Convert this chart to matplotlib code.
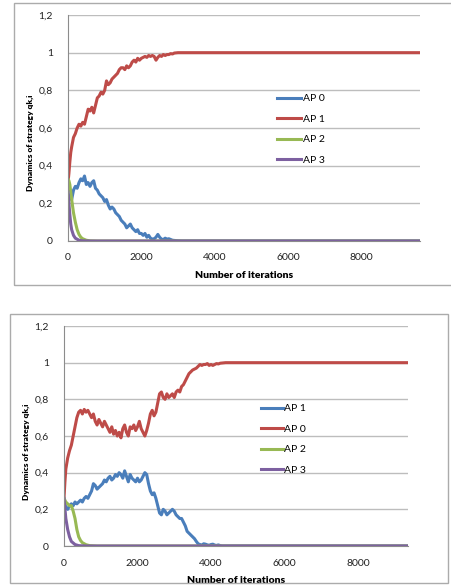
import matplotlib
matplotlib.use("Agg")
import matplotlib.pyplot as plt
from matplotlib.patches import Rectangle
from matplotlib.ticker import FixedLocator, FuncFormatter

plt.rcParams['font.family'] = ['Lato', 'DejaVu Sans']

# ---------------- data: top chart ----------------
top_ap0_x = [0, 50, 100, 150, 200, 250, 300, 350, 400, 450, 500, 550, 600, 650, 700, 750, 800, 850, 900, 950,
             1000, 1050, 1100, 1150, 1200, 1250, 1300, 1350, 1400, 1450, 1500, 1550, 1600, 1650, 1700, 1750,
             1800, 1850, 1900, 1950, 2000, 2050, 2100, 2150, 2200, 2250, 2300, 2350, 2400, 2450, 2500, 2550,
             2600, 2650, 2700, 2750, 2800, 2850, 2900, 2950, 3000, 3100, 9600]
top_ap0_y = [0.25, 0.23, 0.22, 0.27, 0.29, 0.28, 0.31, 0.33, 0.32, 0.345, 0.30, 0.31, 0.29, 0.31, 0.32, 0.28,
             0.27, 0.25, 0.24, 0.23, 0.21, 0.22, 0.19, 0.17, 0.18, 0.17, 0.15, 0.14, 0.13, 0.11, 0.10, 0.09,
             0.07, 0.08, 0.09, 0.07, 0.06, 0.05, 0.06, 0.04, 0.04, 0.03, 0.04, 0.02, 0.03, 0.015, 0.01, 0.012,
             0.02, 0.035, 0.02, 0.01, 0.008, 0.015, 0.01, 0.012, 0.008, 0.004, 0.003, 0.002, 0.001, 0.0, 0.0]

top_ap1_x = [0, 25, 50, 75, 100, 150, 200, 250, 300, 350, 400, 450, 500, 550, 600, 650, 700, 750, 800, 850,
             900, 950, 1000, 1050, 1100, 1150, 1200, 1250, 1300, 1350, 1400, 1450, 1500, 1550, 1600, 1650,
             1700, 1750, 1800, 1850, 1900, 1950, 2000, 2050, 2100, 2150, 2200, 2250, 2300, 2350, 2400, 2450,
             2500, 2550, 2600, 2650, 2700, 2750, 2800, 2850, 2900, 3000, 9600]
top_ap1_y = [0.31, 0.36, 0.42, 0.47, 0.50, 0.55, 0.57, 0.60, 0.62, 0.61, 0.63, 0.62, 0.66, 0.70, 0.69, 0.71,
             0.68, 0.72, 0.76, 0.77, 0.79, 0.78, 0.80, 0.85, 0.83, 0.84, 0.86, 0.87, 0.88, 0.89, 0.91, 0.92,
             0.92, 0.91, 0.93, 0.92, 0.93, 0.95, 0.96, 0.95, 0.97, 0.96, 0.97, 0.975, 0.98, 0.975, 0.985, 0.98,
             0.985, 0.98, 0.96, 0.975, 0.985, 0.98, 0.99, 0.985, 0.99, 0.99, 0.995, 0.993, 0.998, 1.0, 1.0]

top_ap2_x = [0, 25, 50, 75, 100, 150, 200, 250, 300, 350, 400, 500, 600, 800, 9600]
top_ap2_y = [0.33, 0.32, 0.30, 0.26, 0.22, 0.15, 0.10, 0.06, 0.035, 0.02, 0.012, 0.004, 0.001, 0.0, 0.0]

top_ap3_x = [0, 25, 50, 75, 100, 150, 200, 300, 400, 600, 9600]
top_ap3_y = [0.26, 0.20, 0.14, 0.09, 0.06, 0.03, 0.015, 0.004, 0.001, 0.0, 0.0]

# ---------------- data: bottom chart ----------------
bot_ap1_x = [0, 50, 100, 150, 200, 250, 300, 350, 400, 450, 500, 550, 600, 650, 700, 750, 800, 850, 900, 950,
             1000, 1050, 1100, 1150, 1200, 1250, 1300, 1350, 1400, 1450, 1500, 1550, 1600, 1650, 1700, 1750,
             1800, 1850, 1900, 1950, 2000, 2050, 2100, 2150, 2200, 2250, 2300, 2350, 2400, 2450, 2500, 2550,
             2600, 2650, 2700, 2750, 2800, 2850, 2900, 2950, 3000, 3050, 3100, 3150, 3200, 3250, 3300, 3350,
             3400, 3450, 3500, 3550, 3600, 3650, 3700, 3750, 3800, 3850, 3900, 3950, 4000, 4050, 4100, 4150,
             4200, 4250, 4300, 9360]
bot_ap1_y = [0.25, 0.21, 0.20, 0.22, 0.23, 0.22, 0.24, 0.23, 0.24, 0.25, 0.24, 0.26, 0.27, 0.26, 0.28, 0.30,
             0.34, 0.33, 0.31, 0.32, 0.33, 0.34, 0.36, 0.35, 0.37, 0.38, 0.36, 0.37, 0.39, 0.38, 0.40, 0.39,
             0.37, 0.41, 0.38, 0.35, 0.39, 0.37, 0.36, 0.35, 0.37, 0.35, 0.36, 0.38, 0.40, 0.39, 0.34, 0.30,
             0.28, 0.29, 0.26, 0.22, 0.18, 0.17, 0.20, 0.19, 0.17, 0.18, 0.19, 0.20, 0.19, 0.17, 0.16, 0.15,
             0.15, 0.13, 0.11, 0.08, 0.07, 0.06, 0.05, 0.04, 0.025, 0.012, 0.008, 0.005, 0.012, 0.01, 0.006,
             0.004, 0.008, 0.01, 0.005, 0.003, 0.006, 0.002, 0.0, 0.0]

bot_ap0_x = [0, 25, 50, 100, 150, 200, 250, 300, 350, 400, 450, 500, 550, 600, 650, 700, 750, 800, 850, 900,
             950, 1000, 1050, 1100, 1150, 1200, 1250, 1300, 1350, 1400, 1450, 1500, 1550, 1600, 1650, 1700,
             1750, 1800, 1850, 1900, 1950, 2000, 2050, 2100, 2150, 2200, 2250, 2300, 2350, 2400, 2450, 2500,
             2550, 2600, 2650, 2700, 2750, 2800, 2850, 2900, 2950, 3000, 3050, 3100, 3150, 3200, 3250, 3300,
             3350, 3400, 3450, 3500, 3550, 3600, 3650, 3700, 3750, 3800, 3850, 3900, 3950, 4000, 4050, 4100,
             4150, 4200, 4250, 4300, 4400, 9360]
bot_ap0_y = [0.26, 0.35, 0.42, 0.48, 0.52, 0.55, 0.60, 0.65, 0.70, 0.73, 0.74, 0.72, 0.745, 0.73, 0.74, 0.72,
             0.70, 0.72, 0.68, 0.66, 0.69, 0.67, 0.65, 0.68, 0.66, 0.64, 0.62, 0.65, 0.61, 0.63, 0.60, 0.62,
             0.59, 0.64, 0.66, 0.62, 0.60, 0.65, 0.64, 0.66, 0.63, 0.65, 0.68, 0.64, 0.62, 0.60, 0.63, 0.67,
             0.72, 0.74, 0.71, 0.73, 0.78, 0.83, 0.84, 0.81, 0.80, 0.83, 0.81, 0.82, 0.83, 0.81, 0.84, 0.85,
             0.84, 0.87, 0.88, 0.90, 0.92, 0.94, 0.95, 0.96, 0.965, 0.97, 0.98, 0.99, 0.985, 0.99, 0.99, 0.995,
             0.985, 0.99, 0.985, 0.99, 0.995, 0.993, 0.997, 0.998, 1.0, 1.0]

bot_ap2_x = [0, 50, 100, 150, 200, 250, 300, 350, 400, 450, 500, 600, 700, 900, 9360]
bot_ap2_y = [0.26, 0.24, 0.23, 0.22, 0.22, 0.19, 0.15, 0.09, 0.05, 0.03, 0.018, 0.007, 0.002, 0.0, 0.0]

bot_ap3_x = [0, 50, 100, 150, 200, 300, 400, 600, 9360]
bot_ap3_y = [0.26, 0.15, 0.09, 0.05, 0.025, 0.008, 0.002, 0.0, 0.0]

y_ticks = [0, 0.2, 0.4, 0.6, 0.8, 1.0, 1.2]
x_ticks = [0, 2000, 4000, 6000, 8000]

COL_BLUE = '#4A7EBB'
COL_RED = '#BE4B48'
COL_GREEN = '#98B954'
COL_PURPLE = '#7D60A0'

W, H = 452, 586
fig = plt.figure(figsize=(W / 100, H / 100), dpi=100)
fig.patch.set_facecolor('white')

# outer chart frames
fig.add_artist(Rectangle((14 / W, 1 - 285 / H), 1.02 - 14 / W, (285 - 3) / H, transform=fig.transFigure,
                         fill=False, edgecolor='#ABABAB', linewidth=1.0))
fig.add_artist(Rectangle((10 / W, 1 - 583 / H), (448 - 10) / W, (583 - 314) / H, transform=fig.transFigure,
                         fill=False, edgecolor='#ABABAB', linewidth=1.0))


def fmt_y(v, pos):
    s = ('%.1f' % v).rstrip('0').rstrip('.')
    return s.replace('.', ',')


def style_axes(ax, xmax, ylab_y):
    ax.set_xlim(0, xmax)
    ax.set_ylim(0, 1.2)
    ax.yaxis.set_major_locator(FixedLocator(y_ticks))
    ax.xaxis.set_major_locator(FixedLocator(x_ticks))
    ax.yaxis.set_major_formatter(FuncFormatter(fmt_y))
    ax.xaxis.set_major_formatter(FuncFormatter(lambda v, p: '%d' % v))
    for sp in ['top', 'right']:
        ax.spines[sp].set_visible(False)
    ax.spines['left'].set_color('#8C8C8C')
    ax.spines['bottom'].set_color('#8C8C8C')
    ax.grid(axis='y', color='#BDBDBD', linewidth=1.0)
    ax.set_axisbelow(True)
    ax.tick_params(axis='both', length=0, labelsize=7.5, colors='#222222')
    ax.tick_params(axis='y', pad=11)
    ax.tick_params(axis='x', pad=9)
    ax.set_xlabel('Number of iterations', fontsize=7.5, fontweight='heavy', labelpad=6)
    ax.set_ylabel('Dynamics of strategy qk,i', fontsize=6, fontweight='heavy')
    ax.yaxis.set_label_coords(-0.098, ylab_y)


lw = 2.2

# top chart
ax1 = fig.add_axes([68 / W, 1 - 241 / H, (420 - 68) / W, (241 - 15) / H])
ax1.plot(top_ap0_x, top_ap0_y, color=COL_BLUE, lw=lw, label='AP 0')
ax1.plot(top_ap1_x, top_ap1_y, color=COL_RED, lw=lw, label='AP 1')
ax1.plot(top_ap2_x, top_ap2_y, color=COL_GREEN, lw=lw, label='AP 2')
ax1.plot(top_ap3_x, top_ap3_y, color=COL_PURPLE, lw=lw, label='AP 3')
style_axes(ax1, 9600, 0.434)
ax1.legend(loc='upper left', bbox_to_anchor=(209 / 352, 1 - 79 / 226), frameon=False, fontsize=7.5,
           handlelength=2.3, handletextpad=0.15, labelspacing=1.08, borderaxespad=0, borderpad=0)

# bottom chart
ax2 = fig.add_axes([64 / W, 1 - 546 / H, (408 - 64) / W, (546 - 326) / H])
ax2.plot(bot_ap1_x, bot_ap1_y, color=COL_BLUE, lw=lw, label='AP 1')
ax2.plot(bot_ap0_x, bot_ap0_y, color=COL_RED, lw=lw, label='AP 0')
ax2.plot(bot_ap2_x, bot_ap2_y, color=COL_GREEN, lw=lw, label='AP 2')
ax2.plot(bot_ap3_x, bot_ap3_y, color=COL_PURPLE, lw=lw, label='AP 3')
style_axes(ax2, 9360, 0.427)
ax2.legend(loc='upper left', bbox_to_anchor=(197 / 344, 1 - 78 / 220), frameon=False, fontsize=7.5,
           handlelength=2.1, handletextpad=0.15, labelspacing=1.08, borderaxespad=0, borderpad=0)

fig.savefig('out.png', dpi=100, facecolor='white')
